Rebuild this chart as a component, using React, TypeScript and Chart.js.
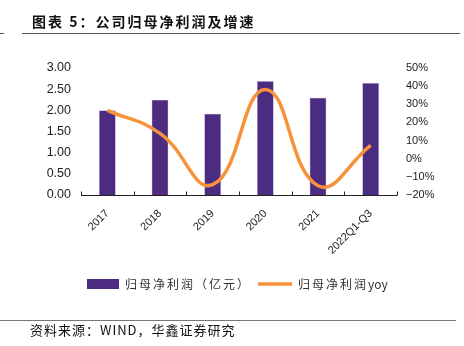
import React, { useEffect, useRef } from "react";
import { Chart, registerables } from "chart.js";

Chart.register(...registerables);

const categories = ["2017", "2018", "2019", "2020", "2021", "2022Q1-Q3"];
const profit = [2.0, 2.25, 1.92, 2.69, 2.3, 2.65];
const yoy = [26.7, 14.0, -14.3, 38.2, -14.9, 7.4];
const seriesNames = ["归母净利润（亿元）", "归母净利润yoy"];
const titleText = "图表 5：公司归母净利润及增速";
const sourceText = "资料来源：WIND，华鑫证券研究";

const PURPLE = "#4B2C80";
const ORANGE = "#F7923A";
const CJK = '"Noto Sans CJK SC", sans-serif';
const LATIN = '"Liberation Sans", Arial, sans-serif';

function drawSpaced(ctx: any, text: string, x: number, y: number, gap: number) {
  let cx = x;
  for (const ch of Array.from(text)) {
    ctx.fillText(ch, cx, y);
    cx += ctx.measureText(ch).width + (ch.charCodeAt(0) > 0x2e80 ? gap : 0);
  }
}

const decor = {
  id: "decor",
  beforeDraw(chart: any) {
    const { ctx } = chart;
    ctx.save();
    ctx.fillStyle = "#fff";
    ctx.fillRect(0, 0, chart.width, chart.height);
    ctx.restore();
  },
  afterDraw(chart: any) {
    const { ctx, chartArea } = chart;
    ctx.save();
    // title
    ctx.fillStyle = "#111";
    ctx.font = "bold 14px " + CJK;
    (ctx as any).letterSpacing = "2px";
    ctx.textBaseline = "middle";
    ctx.textAlign = "left";
    ctx.fillText(titleText, 32, 22);
    (ctx as any).letterSpacing = "0px";
    // rules
    ctx.strokeStyle = "#555";
    ctx.lineWidth = 1.2;
    ctx.beginPath();
    ctx.moveTo(22, 33.5);
    ctx.lineTo(460, 33.5);
    ctx.moveTo(0, 33.5);
    ctx.lineTo(4, 33.5);
    ctx.stroke();
    ctx.strokeStyle = "#777";
    ctx.beginPath();
    ctx.moveTo(0, 320.5);
    ctx.lineTo(456, 320.5);
    ctx.stroke();
    // source
    ctx.fillStyle = "#111";
    ctx.font = "13px " + CJK;
    (ctx as any).letterSpacing = "1px";
    ctx.fillText(sourceText, 30, 330);
    (ctx as any).letterSpacing = "0px";
    // x axis line with inward ticks
    const b = Math.round(chartArea.bottom) + 0.5;
    ctx.strokeStyle = "#222";
    ctx.lineWidth = 1;
    ctx.beginPath();
    ctx.moveTo(chartArea.left, b);
    ctx.lineTo(chartArea.right, b);
    const n = categories.length;
    for (let i = 0; i <= n; i++) {
      const x = Math.round(chartArea.left + ((chartArea.right - chartArea.left) * i) / n) + 0.5;
      ctx.moveTo(x, b);
      ctx.lineTo(x, b - 4);
    }
    ctx.stroke();
    // legend
    const ly = 284;
    const ds = chart.data.datasets;
    const barDs = ds.find((d: any) => d.type === "bar");
    const lineDs = ds.find((d: any) => d.type === "line");
    ctx.fillStyle = barDs.backgroundColor;
    ctx.fillRect(87, ly - 5, 32, 10);
    ctx.fillStyle = "#333";
    ctx.font = "12px " + CJK;
    drawSpaced(ctx, barDs.label, 125, ly, 2);
    ctx.strokeStyle = lineDs.borderColor;
    ctx.lineWidth = 3.5;
    ctx.beginPath();
    ctx.moveTo(258, ly);
    ctx.lineTo(292, ly);
    ctx.stroke();
    drawSpaced(ctx, lineDs.label, 298, ly, 2);
    ctx.restore();
  },
};

export default function App() {
  const ref = useRef<HTMLCanvasElement>(null);
  useEffect(() => {
    if (!ref.current) return;
    const chart = new Chart(ref.current, {
      type: "bar",
      data: {
        labels: categories,
        datasets: [
          {
            type: "line",
            label: seriesNames[1],
            data: yoy,
            yAxisID: "y1",
            borderColor: ORANGE,
            backgroundColor: ORANGE,
            borderWidth: 3.5,
            pointRadius: 0,
            tension: 0.45,
            order: 0,
          } as any,
          {
            type: "bar",
            label: seriesNames[0],
            data: profit,
            yAxisID: "y",
            backgroundColor: PURPLE,
            borderColor: "#B9A9D6",
            borderWidth: 0.6,
            barPercentage: 0.32,
            categoryPercentage: 1,
            order: 1,
          } as any,
        ],
      },
      options: {
        responsive: true,
        maintainAspectRatio: false,
        animation: false,
        layout: { padding: { top: 68, left: 0, right: 0, bottom: 86 } },
        plugins: { legend: { display: false }, tooltip: { enabled: false } },
        scales: {
          x: {
            grid: { display: false },
            border: { display: false },
            ticks: {
              color: "#222",
              font: { family: LATIN, size: 11 },
              minRotation: 45,
              maxRotation: 45,
              padding: 4,
            },
            afterFit(s: any) {
              s.height = 65;
            },
          },
          y: {
            position: "left",
            min: 0,
            max: 3,
            grid: { display: false, drawTicks: false },
            border: { display: false },
            ticks: {
              stepSize: 0.5,
              color: "#222",
              padding: 10,
              font: { family: LATIN, size: 12.5 },
              callback: (v: any) => Number(v).toFixed(2),
            },
            afterFit(s: any) {
              s.width = 81;
            },
          },
          y1: {
            position: "right",
            min: -20,
            max: 50,
            grid: { display: false, drawTicks: false },
            border: { display: false },
            ticks: {
              stepSize: 10,
              color: "#222",
              padding: 9,
              font: { family: LATIN, size: 11 },
              callback: (v: any) => (v < 0 ? "\u2212" + Math.abs(v) + "%" : v + "%"),
            },
            afterFit(s: any) {
              s.width = 67;
            },
          },
        },
      },
      plugins: [decor],
    });
    return () => chart.destroy();
  }, []);
  return (
    <div style={{ position: "absolute", left: 0, top: 0, width: 464, height: 346 }}>
      <canvas ref={ref} />
    </div>
  );
}
